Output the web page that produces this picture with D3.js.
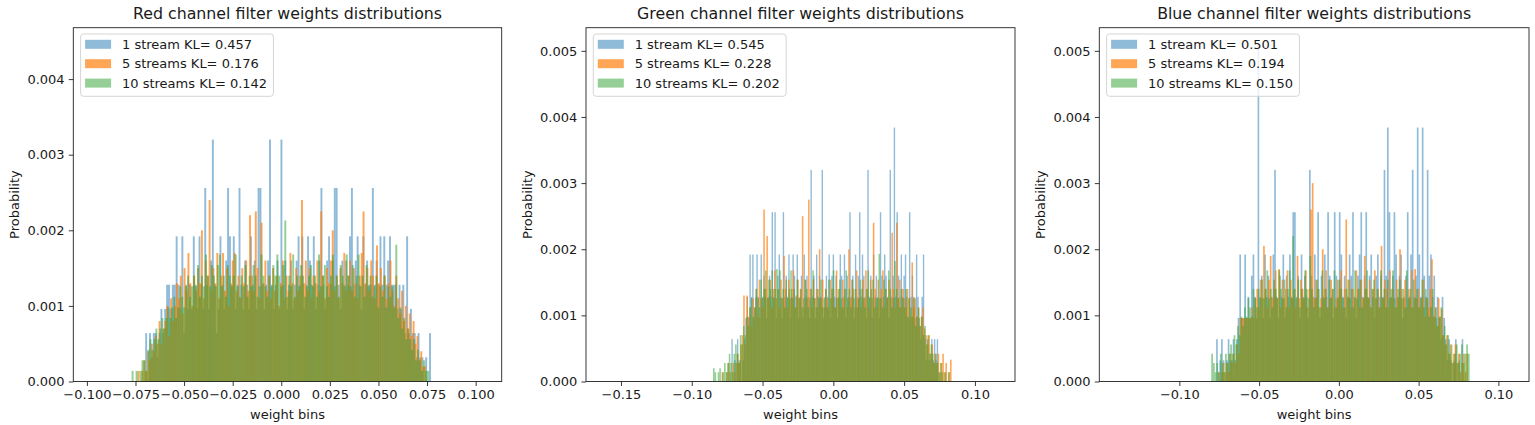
<!DOCTYPE html>
<html>
<head>
<meta charset="utf-8">
<script src="https://cdn.jsdelivr.net/npm/d3@7"></script>
<style>
body { margin: 0; background: #fff; }
svg { display: block; }
text { font-family: "DejaVu Sans", sans-serif; fill: #1a1a1a; }
</style>
</head>
<body>
<svg id="chart"></svg>
<script>
const titles = ['Red channel filter weights distributions', 'Green channel filter weights distributions', 'Blue channel filter weights distributions']
const streams = ['1 stream', '5 streams', '10 streams']
const klValues = [[0.457, 0.176, 0.142], [0.545, 0.228, 0.202], [0.501, 0.194, 0.150]]
const xTicks = [
    [-0.1, -0.075, -0.05, -0.025, 0, 0.025, 0.05, 0.075, 0.1],
    [-0.15, -0.1, -0.05, 0, 0.05, 0.1],
    [-0.1, -0.05, 0, 0.05, 0.1]
]
const yTicks = [
    [0, 0.001, 0.002, 0.003, 0.004],
    [0, 0.001, 0.002, 0.003, 0.004, 0.005],
    [0, 0.001, 0.002, 0.003, 0.004, 0.005]
]

// histogram heights, probability x 1e-4, one value per bin
const redOne = [6.4,0,6.4,3.2,6.4,6.4,3.2,6.4,9.6,6.4, 9.6,12.8,12.8,9.6,12.8,12.8,19.2,12.8,9.6,19.2,
    6.4,12.8,9.6,12.8,9.6,19.2,12.8,9.6,19.2,12.8, 9.6,25.6,12.8,9.6,16,32,12.8,6.4,9.6,19.2,
    12.8,9.6,16,25.6,19.2,12.8,19.2,9.6,12.8,25.6, 12.8,9.6,16,12.8,9.6,19.2,12.8,16,9.6,25.6,
    25.6,12.8,9.6,12.8,16,32,12.8,9.6,12.8,16, 9.6,32,12.8,16,9.6,12.8,16,9.6,12.8,16,
    19.2,12.8,19.2,9.6,12.8,19.2,16,12.8,19.2,9.6, 12.8,16,25.6,12.8,9.6,16,19.2,12.8,16,25.6,
    25.6,12.8,9.6,16,12.8,16,12.8,19.2,25.6,12.8, 16,19.2,12.8,9.6,19.2,12.8,16,12.8,12.8,25.6,
    12.8,16,12.8,19.2,12.8,19.2,12.8,16,19.2,12.8, 12.8,12.8,9.6,12.8,9.6,12.8,6.4,19.2,6.4,9.6,
    6.4,6.4,3.2,6.4,3.2,3.2,0,3.2,0,6.4]
const redFive = [1.4,0,1.4,2.8,1.4,4,2.8,5,4,6, 5,8,5,7,8,10,6,11,8,10,
    13,11,14,9,15,12,17,13,10,14, 12,15,13,20,11,16,14,24,12,15,
    13,17,11,14,17,12,15,10,13,16, 17,12,14,11,15,13,16,12,22,14,
    12,22.5,15,11,21,13,16,12,14,11, 15,12,14,10,13,16,11,14,12,17,
    13,11,15,12,14,24,13,16,12,15, 11,14,13,16,12,22.5,14,11,15,13,
    16,20,12,14,11,15,13,17,12,14, 16,12,15,13,11,14,17,22.5,13,15,
    12,16,14,11,18,13,15,12,14,11, 13,16,12,10,14,11,9,12,8,10,
    7,9,6,8,5,6,3,4,2,2]
const redTen = [1.4,0,1.4,0,1.4,2.8,2.8,1.4,4.2,5.6, 4.2,5.6,7,5.6,7,8.4,7,8.4,9.8,8.4,
    9.8,11.2,8.4,9.8,12.6,11.2,9.8,12.6,14,11.2, 12.6,14,12.6,15.4,11.2,14,12.6,16.8,14,12.6,
    15.4,14,12.6,15.4,16.8,12.6,14,11.2,15.4,14, 12.6,14,16.8,12.6,11.2,14,12.6,15.4,11.2,14,
    12.6,15.4,14,11.2,12.6,16.8,14,12.6,11.2,14, 12.6,15.4,14,16.8,14,12.6,15.4,21.3,11.2,14,
    12.6,16.8,11.2,14,12.6,15.4,14,11.2,12.6,14, 15.4,12.6,14,11.2,16.8,12.6,14,15.4,12.6,11.2,
    14,16.8,12.6,14,11.2,15.4,14,12.6,16.8,14, 12.6,15.4,11.2,14,16.8,12.6,14,11.2,15.4,12.6,
    14,11.2,12.6,14,9.8,12.6,11.2,14,9.8,12.6, 11.2,12.6,9.8,18.1,8.4,9.8,7,8.4,5.6,7,
    5.6,4.2,5.6,2.8,4.2,2.8,1.4,2.8,1.4,1.4]

const greenOne = [0,6.4,0,3.2,0,6.4,3.2,3.2,0,3.2, 6.4,9.6,12.8,9.6,19.2,12.8,19.2,9.6,12.8,19.2,
    12.8,9.6,19.2,12.8,16,12.8,9.6,12.8,16,12.8, 25.6,12.8,25.6,9.6,16,19.2,12.8,9.6,25.6,12.8,
    16,12.8,19.2,9.6,12.8,19.2,16,12.8,19.2,9.6, 12.8,16,9.6,19.2,12.8,16,12.8,9.6,32,12.8,
    16,9.6,19.2,12.8,16,12.8,32,9.6,12.8,16, 12.8,19.2,9.6,16,19.2,12.8,16,9.6,12.8,19.2,
    16,12.8,19.2,9.6,16,12.8,25.6,12.8,16,9.6, 19.2,12.8,16,25.6,12.8,19.2,16,12.8,9.6,32,
    12.8,16,9.6,19.2,12.8,16,12.8,9.6,25.6,16, 12.8,19.2,16,12.8,9.6,32,12.8,16,38.4,12.8,
    25.6,16,12.8,19.2,12.8,16,19.2,12.8,9.6,25.6, 12.8,16,12.8,9.6,19.2,12.8,9.6,6.4,12.8,19.2,
    6.4,3.2,6.4,3.2,3.2,6.4,3.2,6.4,3.2,6.4]
const greenFive = [0,1.4,0,0,1.4,2.8,1.4,0,2.8,1.4, 2.8,4.2,2.8,5.6,7,13,5.6,13,9.8,11.2,
    8.4,12.6,11.2,14,9.8,15.4,12.6,11.2,26,14, 22,12.6,15.4,11.2,14,16.8,12.6,14,11.2,15.4,
    12.6,19,14,11.2,15.4,12.6,14,16.8,11.2,13, 15.4,12.6,14,25,11.2,15.4,12.6,27.5,14,11.2,
    15.4,12.6,14,11.2,20,12.6,15.4,11.2,14,12.6, 11.2,15.4,12.6,14,11.2,16.8,12.6,14,11.2,15.4,
    12.6,14,11.2,20,12.6,15.4,14,11.2,16.8,12.6, 14,11.2,15.4,12.6,16.8,14,11.2,15.4,12.6,24,
    14,11.2,15.4,12.6,14,16.8,11.2,14,12.6,15.4, 12.6,22.5,14,11.2,24,12.6,15.4,11.2,14,12.6,
    11.2,14,12.6,9.8,18,11.2,12.6,9.8,11.2,8.4, 9.8,11.2,8,7,5.6,7,4.2,5.6,2.8,4.2,
    2.8,4.2,1.4,2.8,4.2,1.4,2.8,0,1.4,3.3]
const greenTen = [2,1.4,0,1.4,2,0,1.4,2.8,1.4,2.8, 4.2,2.8,1.4,4.2,5.6,4.2,2.8,7,5.6,8.4,
    7,9.8,8.4,11.2,12.6,9.8,11.2,14,12.6,11.2, 15.4,12.6,14,16.8,12.6,15.4,14,16.8,12.6,14,
    17,13.9,16.8,12.6,14,11.2,15.4,12.6,14,16.8, 12.6,14,11.2,15.4,12.6,14,11.2,12.6,15.4,14,
    11.2,12.6,14,16.8,12.6,11.2,14,12.6,15.4,11.2, 12.6,14,11.2,15.4,12.6,14,16.8,11.2,12.6,14,
    15.4,12.6,11.2,14,16.8,12.6,14,11.2,15.4,12.6, 14,11.2,12.6,15.4,14,12.6,11.2,14,16.8,12.6,
    14,15.4,11.2,12.6,12.6,19.3,12.6,11.2,15.4,14, 12.6,16.8,14,11.2,12.6,18.2,14,12.6,11.2,14,
    12.6,11.2,14,9.8,12.6,11.2,9.8,12.6,8.4,9.8, 11.2,8.4,9.8,7,8.4,5.6,7,4.2,5.6,4.2,
    2.8,4.2,2.8,1.4,2.8,1.4,0,1.4,0,1.4]

const blueOne = [0,6.4,0,3.2,6.4,3.2,0,3.2,6.4,3.2, 3.2,6.4,3.2,6.4,9.6,19.2,9.6,9.6,19.2,9.6,
    12.8,9.6,16,19.2,12.8,9.6,51.2,12.8,16,9.6, 19.2,12.8,16,9.6,12.8,19.2,32,12.8,9.6,16,
    12.8,19.2,9.6,16,12.8,19.2,12.8,25.6,25.6,12.8, 16,9.6,19.2,12.8,16,12.8,9.6,32,16,12.8,
    19.2,12.8,25.6,9.6,16,12.8,19.2,12.8,25.6,16, 12.8,9.6,25.6,16,12.8,25.6,19.2,12.8,16,9.6,
    12.8,19.2,16,25.6,12.8,9.6,16,19.2,25.6,12.8, 16,25.6,12.8,16,19.2,12.8,9.6,16,19.2,12.8,
    16,12.8,32,16,38.4,25.6,12.8,16,25.6,19.2, 12.8,16,19.2,9.6,12.8,16,25.6,12.8,19.2,32,
    12.8,16,38.4,19.2,12.8,38.4,16,12.8,32,16, 19.2,12.8,16,9.6,12.8,9.6,6.4,12.8,9.6,6.4,
    3.2,6.4,3.2,0,3.2,6.4,0,3.2,0,6.4]
const blueFive = [0,1.4,0,1.4,2.8,1.4,2.8,1.4,4.2,2.8, 4.2,2.8,5.6,4.2,9.6,9.6,9.6,9.6,9.6,9.6,
    9.6,11.2,9.6,12.6,14,11.2,15.4,12.6,20.5,14, 11.2,15.4,19,12.6,14,16.8,12.6,17,11.2,15.4,
    12.6,14,16.8,11.2,15.4,12.6,14,11.2,19,12.6, 15.4,14,12.6,16.8,11.2,14,26,30,12.6,15.4,
    14,11.2,12.6,20,14,16.8,11.2,12.6,15.4,14, 11.2,12.6,15.4,14,16.8,11.2,14,24.5,12.6,15.4,
    11.2,14,12.6,16.8,14,11.2,15.4,12.6,19,14, 12.6,15.4,11.2,14,16.8,12.6,14,11.2,20.5,12.6,
    15.4,14,11.2,16.8,12.6,14,11.2,15.4,12.6,20, 14,12.6,15.4,11.2,14,12.6,16.8,11.2,17,12.6,
    14,11.2,12.6,15.4,9.8,12.6,11.2,14,18.5,9.8, 11.2,8.4,12.6,9.8,11,7,5.6,7,4.2,5.6,
    2.8,4.2,5.6,2.8,4.2,1.4,2.8,4.2,1.4,4.2]
const blueTen = [4.2,2.8,1.4,2.8,1.4,4.2,2.8,1.4,4.2,2.8, 4.2,5.6,4.2,7,5.6,8.4,7,9.8,8.4,11.2,
    9.8,12.6,11.2,9.8,14,12.6,11.2,14,12.6,15.4, 12.6,14,16.8,12.6,14,11.2,15.4,14,12.6,16.8,
    14,12.6,15.4,11.2,14,16.8,12.6,22,14,12.6, 15.4,11.2,14,12.6,16.8,14,12.6,19,14,11.2,
    12.6,15.4,14,11.2,16.8,12.6,14,11.2,15.4,12.6, 14,16.8,11.2,12.6,15.4,14,12.6,11.2,14,15.4,
    12.6,14,11.2,16.8,12.6,14,15.4,11.2,12.6,14, 16.8,12.6,11.2,14,15.4,12.6,14,11.2,16.8,12.6,
    14,11.2,15.4,12.6,14,16.8,12.6,11.2,14,15.4, 12.6,14,11.2,16.8,12.6,14,11.2,15.4,12.6,14,
    11.2,12.6,15.4,11.2,14,12.6,9.8,11.2,14,9.8, 11.2,8.4,9.8,11.2,7,8.4,5.6,7,4.2,5.6,
    2.8,4.2,5.6,2.8,4.2,5.6,2.8,4.2,5.6,4.2]

// first and last bin edge of each series
const binRanges = [
    [[-0.070, 0.077], [-0.074, 0.0745], [-0.077, 0.076]],
    [[-0.073, 0.074], [-0.080, 0.0835], [-0.085, 0.082]],
    [[-0.078, 0.078], [-0.077, 0.081], [-0.080, 0.082]]
]
const seriesValues = [[redOne, redFive, redTen], [greenOne, greenFive, greenTen], [blueOne, blueFive, blueTen]]

const W = 1535, H = 425
const colors = ['#1f77b4', '#ff7f0e', '#2ca02c']
const alphas = [0.5, 0.7, 0.5]
const panels = [
    { left: 73.3, right: 501.7, xDom: [-0.107, 0.1134], yMax: 0.00468, xFmt: '.3f' },
    { left: 586, right: 1015, xDom: [-0.1747, 0.1283], yMax: 0.00535, xFmt: '.2f' },
    { left: 1099.3, right: 1529, xDom: [-0.1502, 0.1192], yMax: 0.00535, xFmt: '.2f' }
]
const plotTop = 27.7, plotBottom = 381.5
const fs = 13

const svg = d3.select('#chart').attr('width', W).attr('height', H)

panels.forEach((p, k) => {
    const x = d3.scaleLinear().domain(p.xDom).range([p.left, p.right])
    const y = d3.scaleLinear().domain([0, p.yMax]).range([plotBottom, plotTop])
    const g = svg.append('g')

    seriesValues[k].forEach((vals, s) => {
        const [lo, hi] = binRanges[k][s]
        const w = (hi - lo) / vals.length
        g.append('g')
            .attr('fill', colors[s])
            .attr('fill-opacity', alphas[s])
            .selectAll('rect')
            .data(vals)
            .enter()
            .append('rect')
            .attr('x', (d, i) => x(lo + i * w))
            .attr('width', (d, i) => x(lo + (i + 1) * w) - x(lo + i * w))
            .attr('y', d => y(d * 1e-4))
            .attr('height', d => plotBottom - y(d * 1e-4))
    })

    // axes
    const xAxis = g.append('g')
        .attr('transform', `translate(0,${plotBottom})`)
        .call(d3.axisBottom(x).tickValues(xTicks[k]).tickFormat(d3.format(p.xFmt)).tickSize(4.5).tickPadding(4.2))
    const yAxis = g.append('g')
        .attr('transform', `translate(${p.left},0)`)
        .call(d3.axisLeft(y).tickValues(yTicks[k]).tickFormat(d3.format('.3f')).tickSize(4.5).tickPadding(4.2))
    ;[xAxis, yAxis].forEach(a => {
        a.select('.domain').remove()
        a.selectAll('line').attr('stroke', '#222').attr('stroke-width', 0.9)
        a.selectAll('text').attr('font-size', fs).attr('font-family', '"DejaVu Sans", sans-serif').attr('fill', '#1a1a1a')
    })

    g.append('rect')
        .attr('x', p.left).attr('y', plotTop)
        .attr('width', p.right - p.left).attr('height', plotBottom - plotTop)
        .attr('fill', 'none').attr('stroke', '#222').attr('stroke-width', 0.9)

    const cx = (p.left + p.right) / 2
    g.append('text').attr('x', cx).attr('y', 19)
        .attr('text-anchor', 'middle').attr('font-size', 15.8).text(titles[k])
    g.append('text').attr('x', cx).attr('y', 418.5)
        .attr('text-anchor', 'middle').attr('font-size', fs).text('weight bins')
    g.append('text')
        .attr('transform', `translate(${p.left - 54},${(plotTop + plotBottom) / 2}) rotate(-90)`)
        .attr('text-anchor', 'middle').attr('font-size', fs).text('Probability')

    // legend
    const lg = g.append('g').attr('transform', `translate(${p.left + 7.3},34)`)
    const box = lg.append('rect')
        .attr('rx', 3).attr('height', 62.3)
        .attr('fill', '#fff').attr('fill-opacity', 0.8)
        .attr('stroke', '#d0d0d0').attr('stroke-width', 0.9)
    let maxW = 0
    streams.forEach((name, s) => {
        const cy = 10.3 + s * 19.4
        lg.append('rect').attr('x', 4.5).attr('y', cy - 4.5).attr('width', 26).attr('height', 9)
            .attr('fill', colors[s]).attr('fill-opacity', alphas[s])
        const t = lg.append('text').attr('x', 41.4).attr('y', cy + 4.6).attr('font-size', fs)
            .text(`${name} KL= ${klValues[k][s].toFixed(3)}`)
        maxW = Math.max(maxW, t.node().getComputedTextLength())
    })
    box.attr('width', 41.4 + maxW + 6.3)
})
</script>
</body>
</html>
